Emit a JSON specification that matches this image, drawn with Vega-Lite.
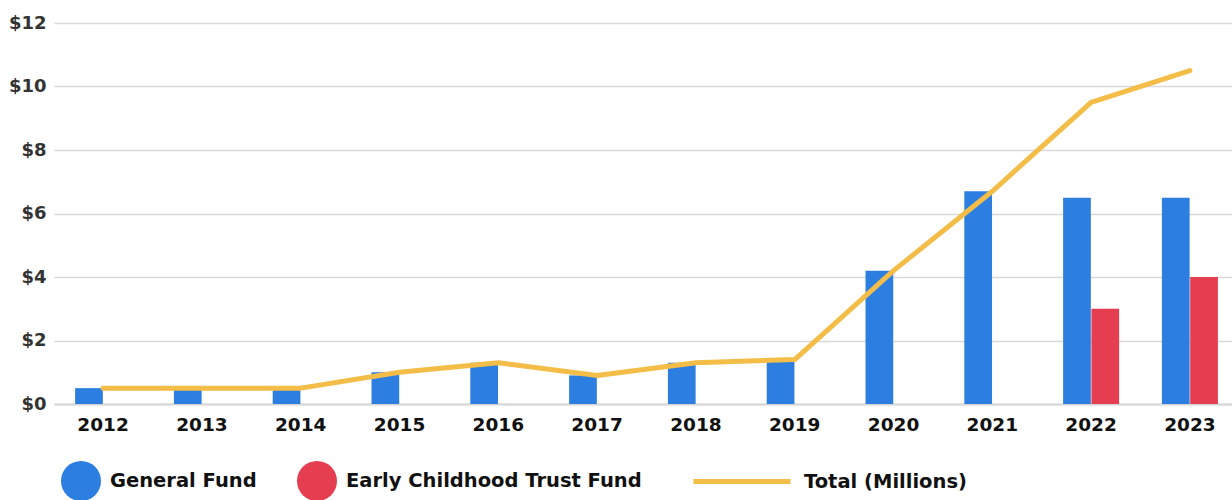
{
  "$schema": "https://vega.github.io/schema/vega-lite/v6.json",
  "autosize": "none",
  "width": 1178,
  "height": 381,
  "padding": {"left": 54, "top": 23, "right": 0, "bottom": 96},
  "background": "white",
  "config": {"view": {"stroke": null}, "font": "DejaVu Sans"},
  "datasets": {
    "bars": [
      {"year": "2012", "fund": "General Fund", "value": 0.5},
      {"year": "2013", "fund": "General Fund", "value": 0.5},
      {"year": "2014", "fund": "General Fund", "value": 0.5},
      {"year": "2015", "fund": "General Fund", "value": 1.0},
      {"year": "2016", "fund": "General Fund", "value": 1.3},
      {"year": "2017", "fund": "General Fund", "value": 0.9},
      {"year": "2018", "fund": "General Fund", "value": 1.3},
      {"year": "2019", "fund": "General Fund", "value": 1.35},
      {"year": "2020", "fund": "General Fund", "value": 4.2},
      {"year": "2021", "fund": "General Fund", "value": 6.7},
      {"year": "2022", "fund": "General Fund", "value": 6.5},
      {"year": "2023", "fund": "General Fund", "value": 6.5},
      {"year": "2022", "fund": "Early Childhood Trust Fund", "value": 3.0},
      {"year": "2023", "fund": "Early Childhood Trust Fund", "value": 4.0}
    ],
    "total": [
      {"year": "2012", "total": 0.5},
      {"year": "2013", "total": 0.5},
      {"year": "2014", "total": 0.5},
      {"year": "2015", "total": 1.0},
      {"year": "2016", "total": 1.3},
      {"year": "2017", "total": 0.9},
      {"year": "2018", "total": 1.3},
      {"year": "2019", "total": 1.4},
      {"year": "2020", "total": 4.2},
      {"year": "2021", "total": 6.7},
      {"year": "2022", "total": 9.5},
      {"year": "2023", "total": 10.5}
    ]
  },
  "layer": [
    {
      "data": {"name": "bars"},
      "mark": {"type": "bar"},
      "encoding": {
        "x": {
          "field": "year", "type": "ordinal",
          "scale": {"paddingInner": 0.433, "paddingOuter": 0.178, "align": 0.6},
          "axis": {"title": null, "labelAngle": 0, "labelFontSize": 18.5, "labelFontWeight": "bold", "labelColor": "#111111", "ticks": false, "domain": true, "domainColor": "#d6d6d6", "domainWidth": 2, "labelPadding": 11, "grid": false}
        },
        "xOffset": {"field": "fund", "type": "nominal", "sort": ["General Fund", "Early Childhood Trust Fund"], "scale": {"domain": ["General Fund", "Early Childhood Trust Fund"], "paddingInner": 0.02}},
        "y": {
          "field": "value", "type": "quantitative",
          "scale": {"domain": [0, 12]},
          "axis": {"title": null, "values": [0, 2, 4, 6, 8, 10, 12], "labelExpr": "'$' + datum.label", "labelFontSize": 18, "labelFontWeight": "bold", "labelColor": "#333333", "labelPadding": 8, "ticks": false, "domain": false, "gridColor": "#d9d9d9", "gridWidth": 1.5}
        },
        "color": {
          "field": "fund", "type": "nominal",
          "scale": {"domain": ["General Fund", "Early Childhood Trust Fund"], "range": ["#2C7FE0", "#E53E50"]},
          "legend": {"title": null, "orient": "none", "legendX": 7, "legendY": 438, "direction": "horizontal", "symbolType": "circle", "symbolSize": 1600, "symbolStrokeWidth": 0, "symbolOpacity": 1, "labelFontSize": 19.5, "labelFontWeight": "bold", "labelColor": "#111111", "labelOffset": 9, "columnPadding": 40, "padding": 0, "labelLimit": 0}
        }
      }
    },
    {
      "data": {"name": "total"},
      "mark": {"type": "line", "strokeWidth": 5, "strokeCap": "round", "strokeJoin": "round"},
      "encoding": {
        "x": {"field": "year", "type": "ordinal"},
        "y": {"field": "total", "type": "quantitative"},
        "stroke": {
          "datum": "Total (Millions)", "type": "nominal",
          "scale": {"domain": ["Total (Millions)"], "range": ["#F3BD48"]},
          "legend": {"title": null, "orient": "none", "legendX": 637, "legendY": 407.5, "symbolType": "stroke", "symbolSize": 9409, "symbolStrokeWidth": 5, "labelFontSize": 19.5, "labelFontWeight": "bold", "labelColor": "#111111", "labelOffset": 11, "padding": 0, "labelLimit": 0}
        }
      }
    }
  ]
}
